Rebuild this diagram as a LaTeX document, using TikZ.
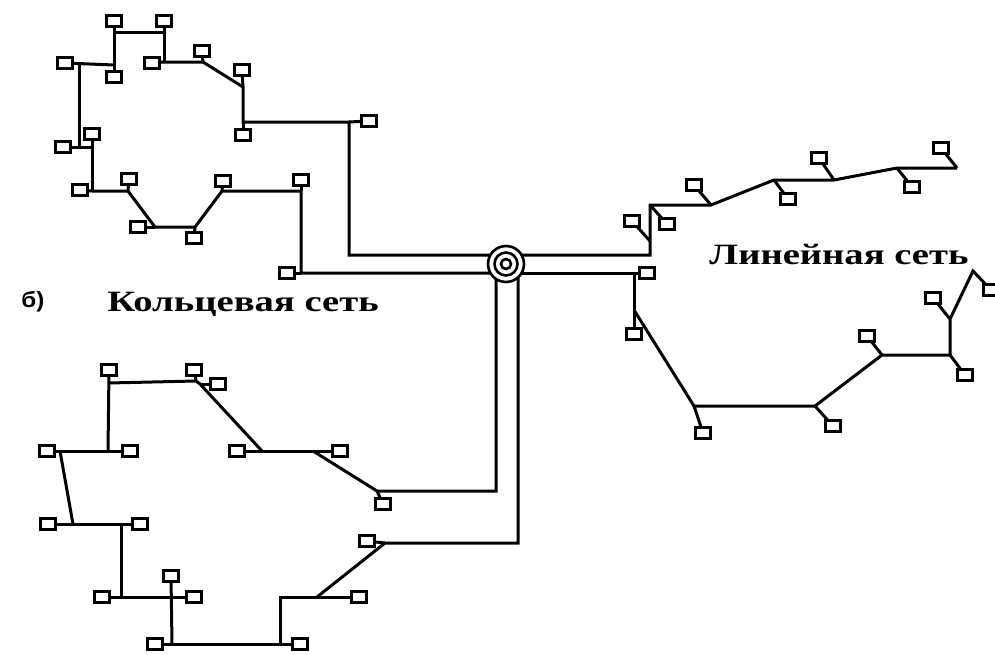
\documentclass[tikz,border=0pt]{standalone}
\usepackage{fontspec}
\setmainfont{Liberation Serif}
\newfontfamily\labelsans{Liberation Sans}
\usepackage{graphicx}

\tikzset{
  pc/.style={draw, line width=2.5pt, fill=white, minimum width=15pt,
             minimum height=11pt, inner sep=0pt, outer sep=0pt},
  wire/.style={line width=3pt},
  ring/.style={line width=2.6pt},
  title/.style={font=\fontsize{29.5}{32}\selectfont\bfseries, inner sep=0pt, anchor=base},
}

\begin{document}
\begin{tikzpicture}[x=1pt,y=-1pt]
\useasboundingbox (0,0) rectangle (995,654);
\clip (0,0) rectangle (995,654);

% central hub
\coordinate (hubc) at (506,264);

% ---------- ring network, upper left ----------
\node[pc] (s1) at (114,21) {};
\node[pc] (s2) at (164,21) {};
\node[pc] (s3) at (114,77) {};
\node[pc] (s4) at (152,63) {};
\node[pc] (s5) at (202,51) {};
\node[pc] (s6) at (242,70) {};
\node[pc] (s7) at (243,135) {};
\node[pc] (s8) at (369,121) {};
\node[pc] (s9) at (65,63) {};
\node[pc] (s10) at (63,147) {};
\node[pc] (s11) at (92,134) {};
\node[pc] (s12) at (80,190) {};
\node[pc] (s13) at (129,179) {};
\node[pc] (s14) at (138,227) {};
\node[pc] (s15) at (194,238) {};
\node[pc] (s16) at (223,181) {};
\node[pc] (s17) at (301,180) {};
\node[pc] (s18) at (287,273) {};

\coordinate (j1) at (114,32);
\coordinate (j2) at (164,32);
\coordinate (j3) at (114,65);
\coordinate (j4) at (164,62);
\coordinate (j5) at (203,62);
\coordinate (j6) at (243,87);
\coordinate (j7) at (243,122);
\coordinate (j8) at (349,122);
\coordinate (j9) at (349,255);
\coordinate (j10) at (79,65);
\coordinate (j11) at (79,147);
\coordinate (j12) at (92,147);
\coordinate (j13) at (92,191);
\coordinate (j14) at (128,191);
\coordinate (j15) at (155,227);
\coordinate (j16) at (195,227);
\coordinate (j17) at (222,191);
\coordinate (j18) at (301,191);
\coordinate (j19) at (301,273);

\begin{scope}[wire]
\draw (s1) -- (s3);
\draw (j1) -- (j2);
\draw (s2) -- (j4);
\draw (s4) -- (j4) -- (j5) -- (j6) -- (j7) -- (j8) -- (j9) -- (j9 -| hubc);
\draw (s5) -- (j5);
\draw (s6) -- (j6);
\draw (j7) -- (s7);
\draw (j8) -- (s8);
\draw (s9) -- (j3);
\draw (j10) -- (j11);
\draw (s10) -- (j12);
\draw (s11) -- (j13);
\draw (s12) -- (j13) -- (j14) -- (j15) -- (j16) -- (j17) -- (j18) -- (j19) -- (j19 -| hubc);
\draw (s13) -- (j14);
\draw (s14) -- (j15);
\draw (s15) -- (j16);
\draw (s16) -- (j17);
\draw (s17) -- (j18);
\draw (s18) -- (j19);
\end{scope}

% ---------- linear network, upper right ----------
\node[pc] (s19) at (632,221) {};
\node[pc] (s20) at (667,224) {};
\node[pc] (s21) at (694,185) {};
\node[pc] (s22) at (788,199) {};
\node[pc] (s23) at (819,158) {};
\node[pc] (s24) at (912,187) {};
\node[pc] (s25) at (941,148) {};

\coordinate (k1) at (650,255);
\coordinate (k2) at (650,205);
\coordinate (k3) at (650,241);
\coordinate (k4) at (711,205);
\coordinate (k5) at (774,180);
\coordinate (k6) at (834,180);
\coordinate (k7) at (897,168);
\coordinate (k8) at (957,168);

\begin{scope}[wire]
\draw (k1 -| hubc) -- (k1) -- (k2) -- (k4) -- (k5) -- (k6) -- (k7) -- (k8);
\draw (s19) -- (k3);
\draw (s20) -- (k2);
\draw (s21) -- (k4);
\draw (s22) -- (k5);
\draw (s23) -- (k6);
\draw (s24) -- (k7);
\draw (s25) -- (k8);
\end{scope}

% ---------- linear network, lower right ----------
\node[pc] (s26) at (647,273) {};
\node[pc] (s27) at (634,334) {};
\node[pc] (s28) at (703,433) {};
\node[pc] (s29) at (833,426) {};
\node[pc] (s30) at (867,336) {};
\node[pc] (s31) at (965,375) {};
\node[pc] (s32) at (933,298) {};
\node[pc] (s33) at (991,290) {};

\coordinate (m1) at (634,273);
\coordinate (m2) at (634,310);
\coordinate (m3) at (694,406);
\coordinate (m4) at (815,406);
\coordinate (m5) at (882,355);
\coordinate (m6) at (950,355);
\coordinate (m7) at (950,319);
\coordinate (m8) at (973,271);

\begin{scope}[wire]
\draw (m1 -| hubc) -- (s26);
\draw (m1) -- (s27);
\draw (m2) -- (m3) -- (m4) -- (m5) -- (m6) -- (m7) -- (m8) -- (s33);
\draw (m3) -- (s28);
\draw (s29) -- (m4);
\draw (s30) -- (m5);
\draw (m6) -- (s31);
\draw (s32) -- (m7);
\end{scope}

% ---------- ring network, lower left ----------
\node[pc] (s34) at (383,504) {};
\node[pc] (s35) at (340,451) {};
\node[pc] (s36) at (237,451) {};
\node[pc] (s37) at (194,370) {};
\node[pc] (s38) at (218,384) {};
\node[pc] (s39) at (109,370) {};
\node[pc] (s40) at (47,451) {};
\node[pc] (s41) at (130,451) {};
\node[pc] (s42) at (48,524) {};
\node[pc] (s43) at (140,524) {};
\node[pc] (s44) at (102,597) {};
\node[pc] (s45) at (194,597) {};
\node[pc] (s46) at (171,576) {};
\node[pc] (s47) at (155,644) {};
\node[pc] (s48) at (300,644) {};
\node[pc] (s49) at (359,597) {};
\node[pc] (s50) at (367,541) {};

\coordinate (n1) at (496,491);
\coordinate (n2) at (377,491);
\coordinate (n3) at (313,451);
\coordinate (n4) at (262,451);
\coordinate (n5) at (196,381);
\coordinate (n6) at (200,384);
\coordinate (n7) at (108,383);
\coordinate (n8) at (108,451);
\coordinate (n9) at (60,451);
\coordinate (n10) at (73,524);
\coordinate (n11) at (121,524);
\coordinate (n12) at (121,597);
\coordinate (n13) at (172,597);
\coordinate (n14) at (172,644);
\coordinate (n15) at (280,644);
\coordinate (n16) at (280,597);
\coordinate (n17) at (317,597);
\coordinate (n18) at (385,543);
\coordinate (n19) at (518,543);

\begin{scope}[wire]
\draw (n1 |- hubc) -- (n1) -- (n2) -- (n3);
\draw (n2) -- (s34);
\draw (s36) -- (s35);
\draw (n4) -- (n6) -- (n5) -- (n7);
\draw (n6) -- (s38);
\draw (n5) -- (s37);
\draw (s39) -- (n8);
\draw (s40) -- (s41);
\draw (n9) -- (n10);
\draw (s42) -- (s43);
\draw (n11) -- (n12);
\draw (s44) -- (s45);
\draw (s46) -- (n14);
\draw (s47) -- (s48);
\draw (n15) -- (n16) -- (s49);
\draw (n17) -- (n18) -- (n19) -- (n19 |- hubc);
\draw (s50) -- (n18);
\end{scope}

% hub drawn last so that it covers the wire ends
\node[circle, draw, ring, fill=white, minimum size=36pt, inner sep=0pt] (hub) at (hubc) {};
\draw[ring] (hubc) circle (11.5);
\draw[ring] (hubc) circle (5);

% labels
\node[title] (lblRing) at (243,311) {\scalebox{1.31}[1]{Кольцевая сеть}};
\node[title] (lblLine) at (839,264) {\scalebox{1.31}[1]{Линейная сеть}};
\node[font=\labelsans\fontsize{22}{24}\selectfont\bfseries, inner sep=0pt, anchor=base]
  (lblB) at (33,307) {\scalebox{1.1}[1]{б)}};
\end{tikzpicture}
\end{document}
